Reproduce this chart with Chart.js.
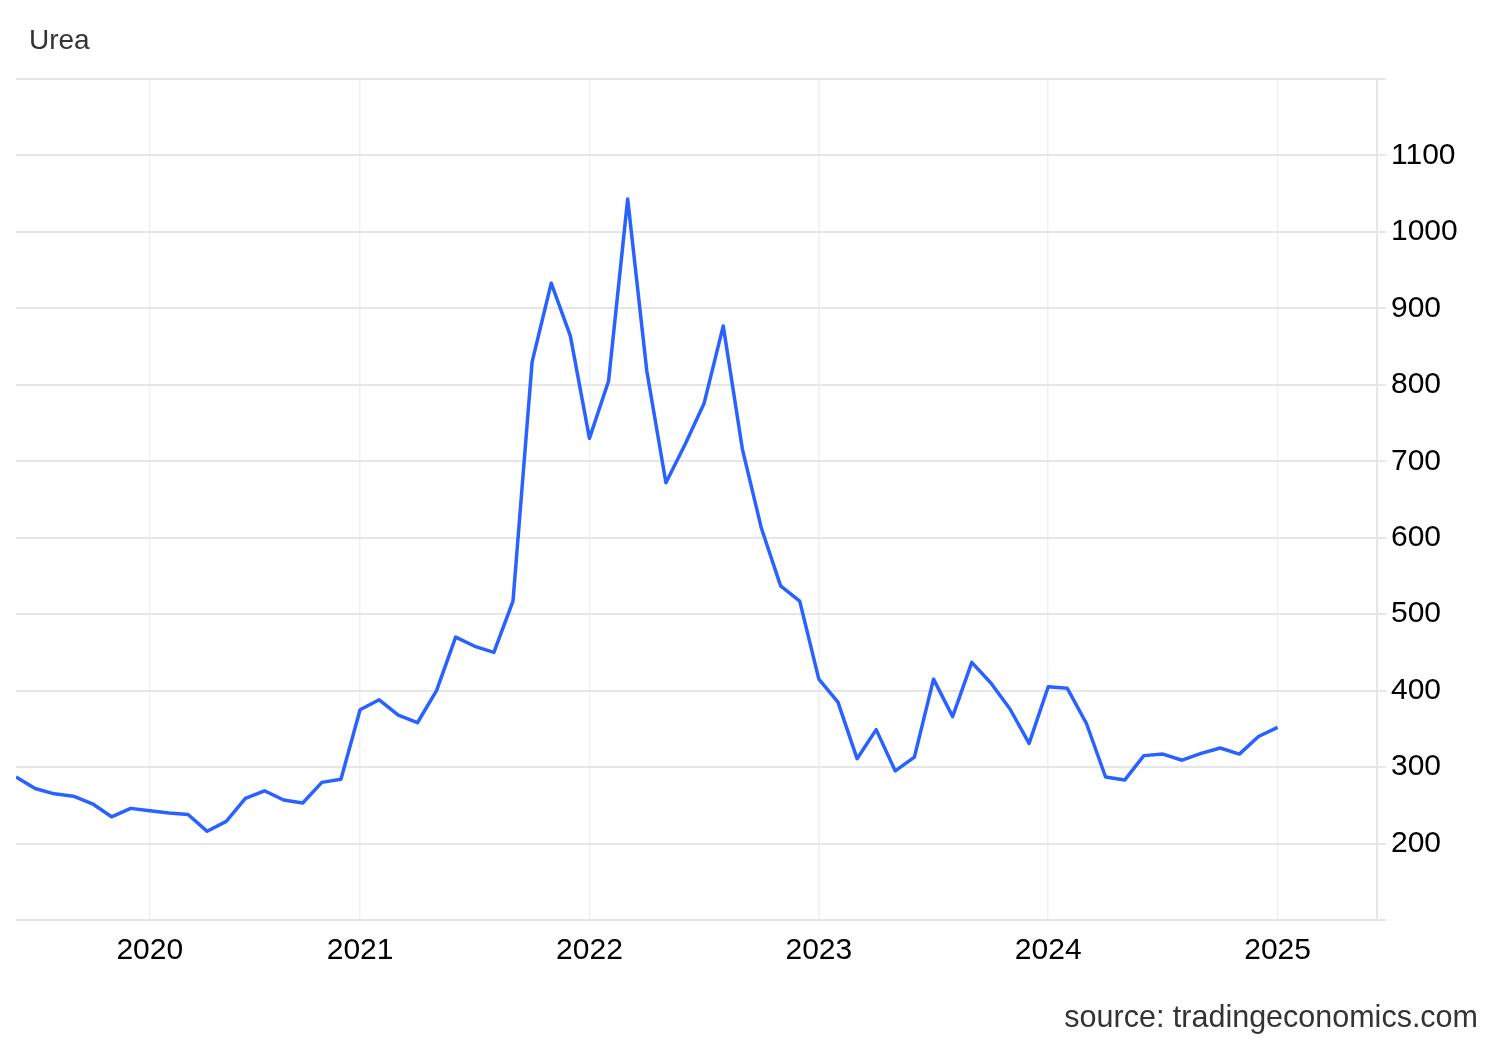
<!DOCTYPE html>
<html>
<head>
<meta charset="utf-8">
<script src="https://cdn.jsdelivr.net/npm/chart.js@4.4.1/dist/chart.umd.min.js"></script>
<style>
  html, body { margin: 0; padding: 0; background: #fff; }
  .wrap { position: relative; width: 1500px; height: 1040px; font-family: 'Liberation Sans', Arial, sans-serif; }
  .title { position: absolute; left: 29px; top: 23px; font-size: 28px; line-height: 34px; color: #333; }
  .source { position: absolute; right: 22px; top: 998px; font-size: 30.5px; line-height: 36px; color: #333; }
</style>
</head>
<body>
<div class="wrap">
  <canvas id="urea-chart"></canvas>
  <div class="title">Urea</div>
  <div class="source">source: tradingeconomics.com</div>
</div>
<script>
// monthly prices, USD/T
const months = [
  '2019-06', '2019-07', '2019-08', '2019-09', '2019-10', '2019-11', '2019-12',
  '2020-01', '2020-02', '2020-03', '2020-04', '2020-05', '2020-07', '2020-08', '2020-09', '2020-10', '2020-11', '2020-12',
  '2021-01', '2021-02', '2021-03', '2021-04', '2021-05', '2021-06', '2021-07', '2021-08', '2021-09', '2021-10', '2021-11', '2021-12',
  '2022-01', '2022-02', '2022-03', '2022-04', '2022-05', '2022-06', '2022-07', '2022-08', '2022-09', '2022-10', '2022-11', '2022-12',
  '2023-01', '2023-02', '2023-03', '2023-04', '2023-05', '2023-06', '2023-07', '2023-08', '2023-09', '2023-10', '2023-11', '2023-12',
  '2024-01', '2024-02', '2024-03', '2024-04', '2024-05', '2024-06', '2024-07', '2024-08', '2024-09', '2024-10', '2024-11', '2024-12',
  '2025-01',
];
const urea = [
  287, 272, 265, 262, 252, 235, 246,
  243, 240, 238, 216, 229, 259, 269, 257, 253, 280, 284,
  375, 388, 368, 358, 400, 470, 458, 450, 517, 830, 933, 864,
  730, 805, 1043, 818, 672, 722, 776, 877, 716, 612, 537, 517,
  415, 385, 311, 349, 295, 313, 415, 366, 437, 410, 376, 331,
  405, 403, 357, 287, 283, 315, 317, 309, 318, 325, 317, 340,
  352,
];
const yearLabels = ['2020', '2021', '2022', '2023', '2024', '2025'];

const yearTicks = yearLabels.map((y) => months.indexOf(y + '-01'));
const font = { family: "'Liberation Sans', Arial, sans-serif", size: 30 };

const ctx = document.getElementById('urea-chart');
ctx.width = 1500;
ctx.height = 1040;

new Chart(ctx, {
  type: 'line',
  data: {
    datasets: [
      {
        label: 'Urea',
        data: urea.map((v, i) => ({ x: i, y: v })),
        borderColor: '#2962ff',
        borderWidth: 3.5,
        borderJoinStyle: 'round',
        pointRadius: 0,
        tension: 0,
        fill: false,
      },
    ],
  },
  options: {
    responsive: false,
    animation: false,
    layout: { padding: { top: 79, left: 16, right: 0, bottom: 0 } },
    plugins: {
      legend: { display: false },
      tooltip: { enabled: false },
    },
    scales: {
      x: {
        type: 'linear',
        min: 0,
        max: 71.2,
        afterBuildTicks: (scale) => {
          scale.ticks = yearTicks.map((v) => ({ value: v }));
        },
        afterFit: (scale) => {
          scale.height = 120;
        },
        ticks: {
          autoSkip: false,
          maxRotation: 0,
          padding: 13,
          color: '#000',
          font,
          callback: (value) => yearLabels[yearTicks.indexOf(value)],
        },
        grid: { color: '#eef0f4', lineWidth: 1.5, drawTicks: false },
        border: { display: false },
      },
      y: {
        position: 'right',
        min: 100,
        max: 1200,
        afterFit: (scale) => {
          scale.width = 123;
        },
        ticks: {
          stepSize: 100,
          padding: 5,
          color: '#000',
          font,
          callback: (value) => (value === 100 || value === 1200 ? '' : value),
        },
        grid: { color: '#e6e6e6', lineWidth: 2, tickLength: 9 },
        border: { display: true, color: '#e6e6e6', width: 2 },
      },
    },
  },
});
</script>
</body>
</html>
